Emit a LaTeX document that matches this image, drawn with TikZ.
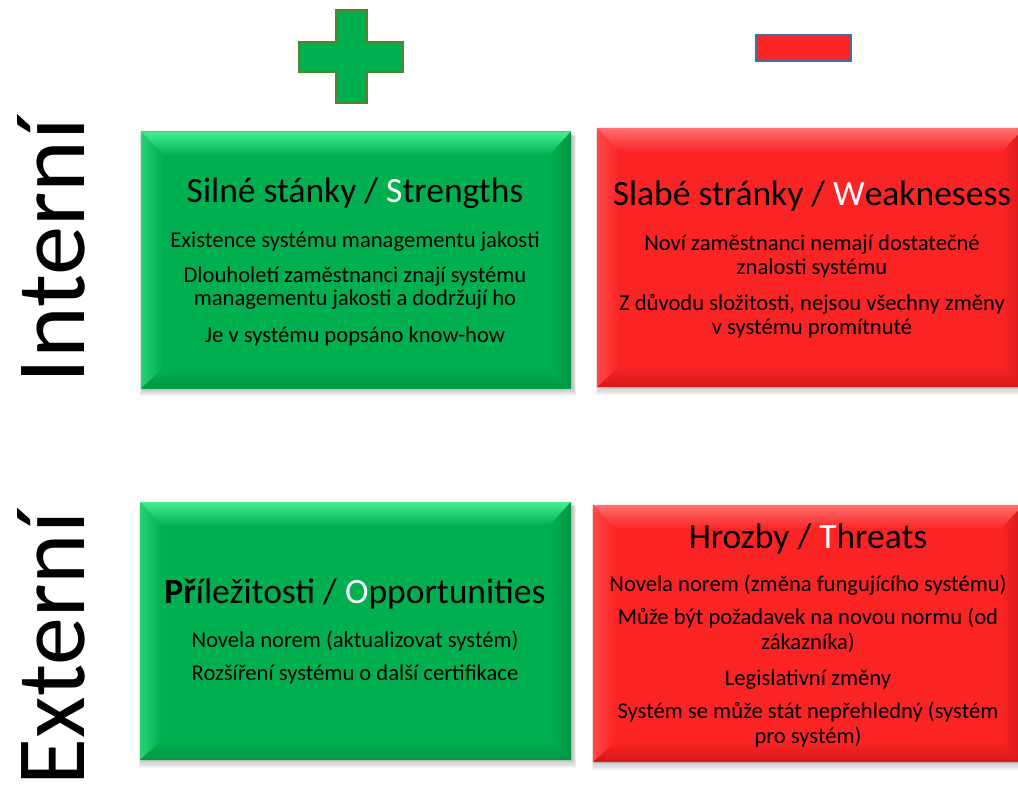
\documentclass[tikz,border=0pt]{standalone}
\usepackage{fontspec}
\setmainfont{Carlito}
\usetikzlibrary{calc}

\definecolor{sgreen}{RGB}{0,176,80}
\definecolor{sgreenlt}{RGB}{72,238,148}
\definecolor{sgreenmd}{RGB}{40,210,115}
\definecolor{sgreendk}{RGB}{0,150,66}
\definecolor{sred}{RGB}{250,36,36}
\definecolor{sredlt}{RGB}{255,112,112}
\definecolor{sredmd}{RGB}{255,75,75}
\definecolor{sreddk}{RGB}{212,24,24}
\definecolor{plusedge}{RGB}{84,130,53}
\definecolor{minusedge}{RGB}{65,113,156}

% bevelled panel: #1 node name, #2 base, #3 light, #4 mid-light, #5 dark
\newcommand{\bevelpanel}[5]{%
  \foreach \k in {0,...,6}
    \fill[black,opacity=0.035]
      ($(#1.north west)+(2-\k*0.5,3+\k*0.2)$) rectangle ($(#1.south east)+(2+\k*0.5,1+\k*1.1)$);
  \fill[#2] (#1.north west) rectangle (#1.south east);
  \shade[top color=#3,bottom color=#2]
    (#1.north west) -- (#1.north east) -- ($(#1.north east)+(-22,24)$) -- ($(#1.north west)+(22,24)$) -- cycle;
  \shade[left color=#4,right color=#2]
    (#1.north west) -- ($(#1.north west)+(22,24)$) -- ($(#1.south west)+(22,-20)$) -- (#1.south west) -- cycle;
  \shade[left color=#2,right color=#5]
    (#1.north east) -- ($(#1.north east)+(-22,24)$) -- ($(#1.south east)+(-22,-20)$) -- (#1.south east) -- cycle;
  \shade[top color=#2,bottom color=#5]
    (#1.south west) -- ($(#1.south west)+(22,-20)$) -- ($(#1.south east)+(-22,-20)$) -- (#1.south east) -- cycle;
}

\tikzset{
  title/.style={anchor=base,inner sep=0pt,font=\fontsize{35.5}{40}\selectfont},
  item/.style={anchor=base,inner sep=0pt,font=\fontsize{22.6}{26}\selectfont},
  side/.style={anchor=south,inner sep=0pt,rotate=90},
}

\begin{document}
\begin{tikzpicture}[x=1pt,y=-1pt]
\useasboundingbox (0,0) rectangle (1018,790);

% plus and minus signs
\draw[plusedge,line width=2.2pt,fill=sgreen]
  (336,10) -- (367,10) -- (367,42) -- (403,42) -- (403,72) -- (367,72) -- (367,103)
  -- (336,103) -- (336,72) -- (299,72) -- (299,42) -- (336,42) -- cycle;
\node[draw=minusedge,line width=2.2pt,fill=sred,inner sep=0pt,
      minimum width=95pt,minimum height=26pt] (minus) at (803.5,48) {};

% panels
\node[inner sep=0pt,minimum width=430pt,minimum height=257pt] (S) at (356,260) {};
\node[inner sep=0pt,minimum width=427pt,minimum height=259pt] (W) at (810.5,257.5) {};
\node[inner sep=0pt,minimum width=431pt,minimum height=258pt] (O) at (355.5,631) {};
\node[inner sep=0pt,minimum width=430pt,minimum height=257pt] (T) at (808,633.5) {};
\bevelpanel{S}{sgreen}{sgreenlt}{sgreenmd}{sgreendk}
\bevelpanel{W}{sred}{sredlt}{sredmd}{sreddk}
\bevelpanel{O}{sgreen}{sgreenlt}{sgreenmd}{sgreendk}
\bevelpanel{T}{sred}{sredlt}{sredmd}{sreddk}

% strengths
\node[title] (st) at (355,202) {Silné stánky / \textcolor{white}{S}trengths};
\node[item] (s1) at (355,247) {Existence systému managementu jakosti};
\node[item] (s2) at (355,282) {Dlouholetí zaměstnanci znají systému};
\node[item] (s3) at (355,305) {managementu jakosti a dodržují ho};
\node[item] (s4) at (355,342) {Je v systému popsáno know-how};

% weaknesses
\node[title] (wt) at (812,205) {Slabé stránky / \textcolor{white}{W}eaknesess};
\node[item] (w1) at (812,250) {Noví zaměstnanci nemají dostatečné};
\node[item] (w2) at (812,274) {znalosti systému};
\node[item] (w3) at (812,310) {Z důvodu složitosti, nejsou všechny změny};
\node[item] (w4) at (812,334) {v systému promítnuté};

% opportunities
\node[title] (ot) at (355,603) {\textbf{Př}íležitosti / \textcolor{white}{O}pportunities};
\node[item] (o1) at (355,647) {Novela norem (aktualizovat systém)};
\node[item] (o2) at (355,680) {Rozšíření systému o další certifikace};

% threats
\node[title] (tt) at (808,548) {Hrozby / \textcolor{white}{T}hreats};
\node[item] (t1) at (808,591) {Novela norem (změna fungujícího systému)};
\node[item] (t2) at (808,624) {Může být požadavek na novou normu (od};
\node[item] (t3) at (808,649) {zákazníka)};
\node[item] (t4) at (808,685) {Legislativní změny};
\node[item] (t5) at (808,718) {Systém se může stát nepřehledný (systém};
\node[item] (t6) at (808,743) {pro systém)};

% row labels
\node[side] (int) at (85,250.5) {\resizebox{265pt}{67pt}{Interní}};
\node[side] (ext) at (85,648.5) {\resizebox{273pt}{67pt}{Externí}};
\end{tikzpicture}
\end{document}
